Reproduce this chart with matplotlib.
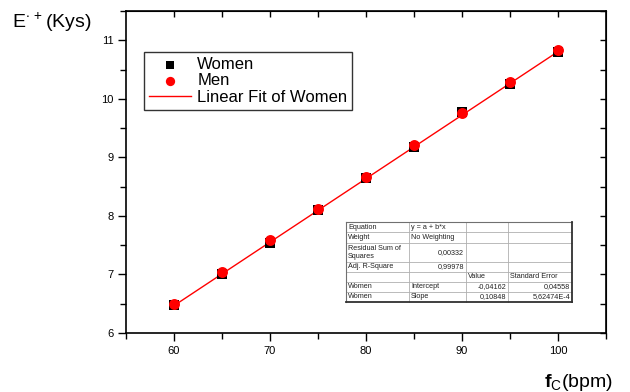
import matplotlib
matplotlib.use("Agg")
import matplotlib.pyplot as plt
import numpy as np
from matplotlib.ticker import MultipleLocator

plt.rcParams['font.family'] = ['Liberation Sans', 'DejaVu Sans']
plt.rcParams['mathtext.fontset'] = 'custom'
plt.rcParams['mathtext.rm'] = 'Liberation Sans'
plt.rcParams['mathtext.bf'] = 'Liberation Sans:bold'

# ---- data ----
fc = [60, 65, 70, 75, 80, 85, 90, 95, 100]
women = [6.48, 7.01, 7.54, 8.10, 8.64, 9.18, 9.78, 10.26, 10.80]
men = [6.50, 7.04, 7.58, 8.12, 8.67, 9.21, 9.76, 10.29, 10.83]
fit_intercept = -0.04162
fit_slope = 0.10848
xticks = [60, 70, 80, 90, 100]
yticks = [6, 7, 8, 9, 10, 11]

table_rows = [
    ["Equation", "y = a + b*x", "", ""],
    ["Weight", "No Weighting", "", ""],
    ["Residual Sum of\nSquares", "0,00332", "", ""],
    ["Adj. R-Square", "0,99978", "", ""],
    ["", "", "Value", "Standard Error"],
    ["Women", "Intercept", "-0,04162", "0,04558"],
    ["Women", "Slope", "0,10848", "5,62474E-4"],
]
table_align = [
    ["left", "left", "left", "left"],
    ["left", "left", "left", "left"],
    ["left", "right", "left", "left"],
    ["left", "right", "left", "left"],
    ["left", "left", "left", "left"],
    ["left", "left", "right", "right"],
    ["left", "left", "right", "right"],
]

W, H = 630, 392
fig = plt.figure(figsize=(W / 100, H / 100), dpi=100)
ax = fig.add_axes([126 / W, 1 - 333 / H, (606 - 126) / W, (333 - 11) / H])

ax.scatter(fc, women, marker='s', s=50, color='black', zorder=3, label='Women', linewidths=0)
ax.scatter(fc, men, marker='o', s=62, color='red', zorder=4, label='Men', linewidths=0)
xf = np.array([fc[0], fc[-1]])
ax.plot(xf, fit_intercept + fit_slope * xf, color='red', lw=1.0, zorder=2,
        label='Linear Fit of Women')

ax.set_xlim(55, 105)
ax.set_ylim(6, 11.5)
ax.set_xticks(xticks)
ax.set_yticks(yticks)
ax.xaxis.set_minor_locator(MultipleLocator(5))
ax.yaxis.set_minor_locator(MultipleLocator(0.5))
ax.tick_params(which='major', direction='out', length=6, width=1, labelsize=8, pad=3)
ax.tick_params(which='minor', direction='out', length=4, width=1)
for s in ax.spines.values():
    s.set_linewidth(1.2)

# top/right inward ticks
axt = ax.secondary_xaxis('top')
axt.set_xticks(xticks + [65, 75, 85, 95])
axt.tick_params(direction='in', length=4, width=1, labeltop=False)
axt.set_xticklabels([])
axr = ax.secondary_yaxis('right')
axr.set_yticks(np.arange(6, 11.51, 0.5))
axr.tick_params(direction='in', length=4, width=1)
axr.set_yticklabels([])

leg = ax.legend(loc='upper left', bbox_to_anchor=(144 / W, 1 - 52 / H),
                bbox_transform=fig.transFigure, frameon=True, fancybox=False,
                edgecolor='black', fontsize=12, handlelength=2.5,
                borderpad=0.3, labelspacing=0.08, handletextpad=0.4,
                borderaxespad=0, scatterpoints=1, markerscale=0.85)
leg.get_frame().set_linewidth(1.0)

fig.text(12 / W, 1 - 28 / H, r'E$^{\bullet\,+}$(Kys)', fontsize=14)
fig.text(544 / W, 1 - 387 / H, r'$\mathbf{f}_{\mathrm{C}}$(bpm)', fontsize=14)

# ---- table ----
tx0, tx1 = 346, 572
col_x = [346, 409, 466, 508, 572]
row_y = [222, 232, 243, 262, 272, 282, 292, 302]
tab = fig.add_axes([0, 0, 1, 1], facecolor='none')
tab.set_xlim(0, W)
tab.set_ylim(H, 0)
tab.axis('off')
tab.add_patch(plt.Rectangle((tx0, row_y[0]), tx1 - tx0, row_y[-1] - row_y[0],
                            facecolor='white', edgecolor='none', zorder=1))
for y in row_y[1:-1]:
    tab.plot([tx0, tx1], [y, y], color='#b0b0b0', lw=0.6, zorder=2)
for x in col_x[1:-1]:
    tab.plot([x, x], [row_y[0], row_y[-1]], color='#b0b0b0', lw=0.6, zorder=2)
tab.plot([tx0, tx1], [row_y[0], row_y[0]], color='#707070', lw=0.8, zorder=3)
tab.plot([tx0, tx0], [row_y[0], row_y[-1]], color='#707070', lw=0.8, zorder=3)
tab.plot([tx1, tx1], [row_y[0], row_y[-1]], color='#303030', lw=1.3, zorder=3)
tab.plot([tx0, tx1], [row_y[-1], row_y[-1]], color='#303030', lw=1.3, zorder=3)
for r, row in enumerate(table_rows):
    yc = (row_y[r] + row_y[r + 1]) / 2
    for c, txt in enumerate(row):
        if not txt:
            continue
        al = table_align[r][c]
        x = col_x[c] + 2 if al == 'left' else col_x[c + 1] - 2
        tab.text(x, yc, txt, fontsize=5.2, ha=al, va='center', zorder=4,
                 linespacing=1.1, color='#222222')

fig.savefig('out.png', dpi=100)
